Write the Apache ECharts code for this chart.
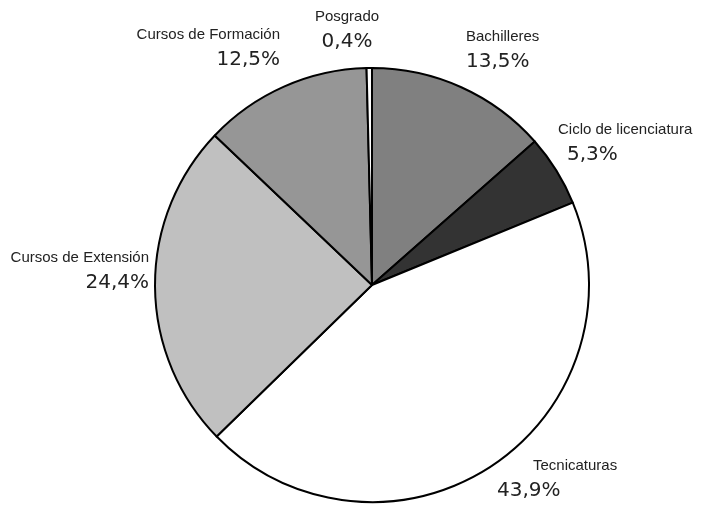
<!DOCTYPE html>
<html><head><meta charset="utf-8">
<script src="https://cdn.jsdelivr.net/npm/echarts@6/dist/echarts.min.js"></script>
<style>html,body{margin:0;padding:0;background:#fff}#c{width:701px;height:510px}</style>
</head><body><div id="c"></div>
<script>
var categories = ['Bachilleres', 'Ciclo de licenciatura', 'Tecnicaturas', 'Cursos de Extensión', 'Cursos de Formación', 'Posgrado'];
var values = [13.5, 5.3, 43.9, 24.4, 12.5, 0.4];
var percentLabels = ['13,5%', '5,3%', '43,9%', '24,4%', '12,5%', '0,4%'];
var sliceColors = ['#808080', '#333333', '#ffffff', '#c0c0c0', '#969696', '#ffffff'];

// label layout (anchor x, block top y, alignment, indents)
var labelX = [466, 558, 497, 149, 280, 347];
var labelTop = [25, 118, 454, 246, 23, 5];
var labelAlign = ['left', 'left', 'left', 'right', 'right', 'center'];
var nameIndent = [0, 0, 36, 0, 0, 0];
var pctIndent = [0, 9, 0, 0, 0, 0];

var chart = echarts.init(document.getElementById('c'), null, {renderer: 'canvas'});
var data = categories.map(function (n, i) {
  var pad = function (l) { return l ? [0, 0, 0, l] : 0; };
  return {
    name: n, value: values[i],
    itemStyle: {color: sliceColors[i]},
    label: {
      formatter: '{n|' + n + '}\n{p|' + percentLabels[i] + '}',
      rich: {
        n: {fontFamily: 'Liberation Sans', fontSize: 15, color: '#222', lineHeight: 24, padding: pad(nameIndent[i])},
        p: {fontFamily: 'DejaVu Sans', fontSize: 20, color: '#222', lineHeight: 26, padding: pad(pctIndent[i])}
      }
    }
  };
});
chart.setOption({
  animation: false,
  series: [{
    type: 'pie',
    center: [372, 285],
    radius: 217,
    startAngle: 90,
    clockwise: true,
    avoidLabelOverlap: false,
    itemStyle: {borderColor: '#000', borderWidth: 2},
    label: {show: true, position: 'outside'},
    labelLine: {show: false},
    emphasis: {disabled: true},
    labelLayout: function (p) {
      var i = p.dataIndex;
      return {x: labelX[i], y: labelTop[i], align: labelAlign[i], verticalAlign: 'top', hideOverlap: false};
    },
    data: data
  }]
});
</script></body></html>
